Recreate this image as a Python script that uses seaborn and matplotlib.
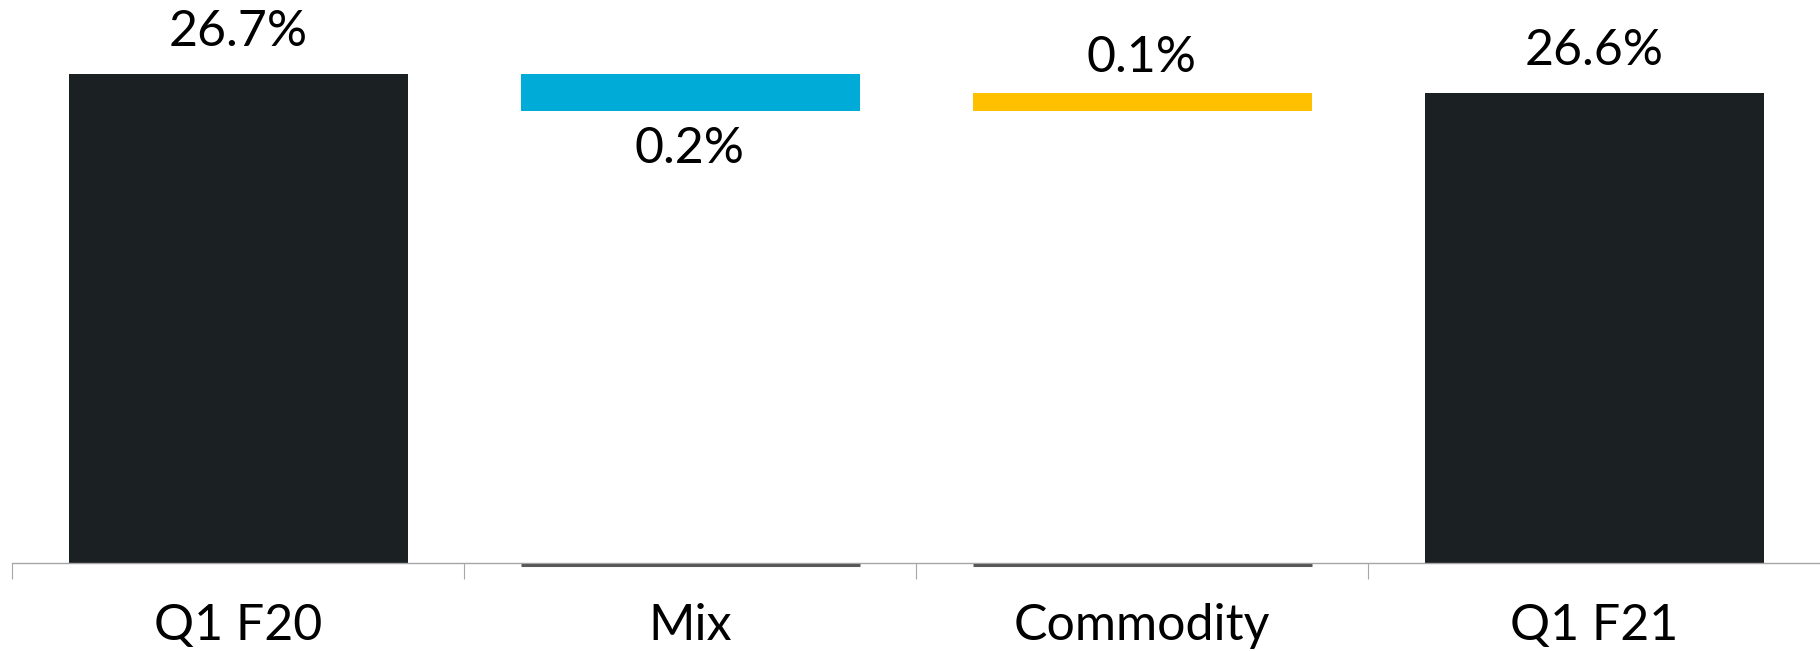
import matplotlib
matplotlib.use("Agg")
import matplotlib.pyplot as plt
import matplotlib.transforms as mtransforms
import seaborn as sns

# ---- data ----
categories = ["Q1 F20", "Mix", "Commodity", "Q1 F21"]
changes = [26.7, -0.2, 0.1, 26.6]
is_total = [True, False, False, True]
value_labels = ["26.7%", "0.2%", "0.1%", "26.6%"]
bar_colors = ["#1B2023", "#00ACD7", "#FFC000", "#1B2023"]

# running totals for waterfall
tops, bases = [], []
running = 0.0
for v, tot in zip(changes, is_total):
    if tot:
        running = v
        tops.append(v)
        bases.append(0.0)
    else:
        start, end = running, running + v
        tops.append(max(start, end))
        bases.append(min(start, end))
        running = end

sns.set_theme(style="white")
plt.rcParams["font.family"] = ["Lato", "DejaVu Sans"]
FS = 36
FW = "normal"

W, H = 1820, 651
fig = plt.figure(figsize=(W / 100, H / 100), dpi=100)
ax = fig.add_axes([12 / W, 88 / H, 1 - 12 / W, 563 / H])

sns.barplot(x=categories, y=tops, hue=categories, palette=bar_colors,
            legend=False, width=0.75, saturation=1, ax=ax, linewidth=0)
sns.barplot(x=categories, y=bases, color="white", width=0.75,
            saturation=1, ax=ax, linewidth=0)

ymin, ymax = 24.057, 27.1
ax.set_ylim(ymin, ymax)
ax.set_xlim(-0.5, 3.5)

# axis styling
for s in ["left", "top", "right"]:
    ax.spines[s].set_visible(False)
ax.spines["bottom"].set_color("#A6A6A6")
ax.spines["bottom"].set_linewidth(1.0)
ax.set_yticks([])
ax.set_ylabel("")
ax.set_xlabel("")
ax.set_xticks(range(len(categories)))
ax.set_xticklabels(categories, fontweight=FW)
ax.set_xticks([i - 0.5 for i in range(len(categories))], minor=True)
ax.tick_params(axis="x", which="major", length=0, labelsize=FS, pad=29,
               labelcolor="black")
ax.tick_params(axis="x", which="minor", length=11.5, width=0.8,
               color="#A6A6A6", direction="out", bottom=True)

# dark baseline line under floating bars
n = len(categories)
offs = mtransforms.offset_copy(ax.transData, fig=fig, x=0, y=-1.5, units="dots")
for i, p in enumerate(ax.patches[:n]):
    if not is_total[i]:
        x0 = p.get_x()
        ax.plot([x0, x0 + p.get_width()], [ymin, ymin], color="#595959",
                lw=2.2, transform=offs, clip_on=False, solid_capstyle="butt",
                zorder=3)

# value labels (offsets in points)
label_offsets = [30, -27, 25, 30]
for i, p in enumerate(ax.patches[:n]):
    cx = p.get_x() + p.get_width() / 2
    anchor_y = bases[i] if label_offsets[i] < 0 else tops[i]
    ax.annotate(value_labels[i], (cx, anchor_y), xytext=(0, label_offsets[i]),
                textcoords="offset points", ha="center", va="center",
                fontsize=FS, fontweight=FW, color="black")

fig.savefig("out.png", dpi=100)
